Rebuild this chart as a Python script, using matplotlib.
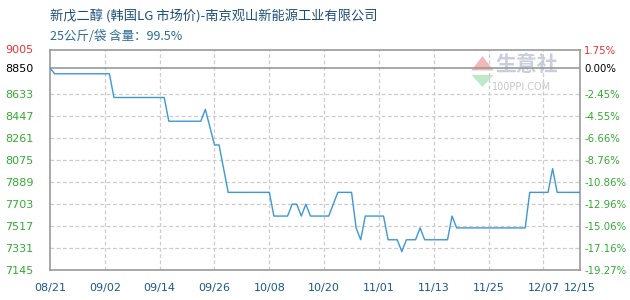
import matplotlib
matplotlib.use("Agg")
import matplotlib.pyplot as plt
import matplotlib.patches as mpatches
import pandas as pd
import numpy as np

plt.rcParams['font.family'] = ['DejaVu Sans', 'Noto Sans CJK SC']

title1 = "新戊二醇 (韩国LG 市场价)-南京观山新能源工业有限公司"
title2 = "25公斤/袋 含量：99.5%"

dates = ["2023-08-21", "2023-08-22", "2023-09-03", "2023-09-04", "2023-09-15", "2023-09-16",
         "2023-09-23", "2023-09-24", "2023-09-26", "2023-09-27", "2023-09-29", "2023-10-08",
         "2023-10-09", "2023-10-12", "2023-10-13", "2023-10-14", "2023-10-15", "2023-10-16",
         "2023-10-17", "2023-10-21", "2023-10-23", "2023-10-26", "2023-10-27", "2023-10-28",
         "2023-10-29", "2023-11-02", "2023-11-03", "2023-11-05", "2023-11-06", "2023-11-07",
         "2023-11-09", "2023-11-10", "2023-11-11", "2023-11-16", "2023-11-17", "2023-11-18",
         "2023-12-03", "2023-12-04", "2023-12-08", "2023-12-09", "2023-12-10", "2023-12-15"]
prices = [8850, 8800, 8800, 8600, 8600, 8400,
          8400, 8500, 8200, 8200, 7800, 7800,
          7600, 7600, 7700, 7700, 7600, 7700,
          7600, 7600, 7800, 7800, 7500, 7400,
          7600, 7600, 7400, 7400, 7300, 7400,
          7400, 7500, 7400, 7400, 7600, 7500,
          7500, 7800, 7800, 8000, 7800, 7800]

base_price = 8850
y_ticks = [9005, 8850, 8633, 8447, 8261, 8075, 7889, 7703, 7517, 7331, 7145]
pct_labels = ["1.75%", "0.00%", "-2.45%", "-4.55%", "-6.66%", "-8.76%", "-10.86%",
              "-12.96%", "-15.06%", "-17.16%", "-19.27%"]
x_tick_labels = ["08/21", "09/02", "09/14", "09/26", "10/08", "10/20", "11/01",
                 "11/13", "11/25", "12/07", "12/15"]

RED = "#ee3333"
GREEN = "#33aa33"
BLACK = "#000000"
BLUE_TXT = "#1a5a86"
LINE = "#3c97d6"
GRID = "#cccccc"
BORDER = "#999999"

def col_for(i):
    return RED if i == 0 else (BLACK if i == 1 else GREEN)

d = pd.to_datetime(dates)
start = d[0]
days = np.array([(x - start).days for x in d])

fig = plt.figure(figsize=(6.3, 3.0), dpi=100)
ax = fig.add_axes([50/630, 30/300, 530/630, 220.5/300])

ax.plot(days, prices, color=LINE, lw=1.0, zorder=3)

ax.set_xlim(0, 116)
ax.set_ylim(7145, 9005)

tick_dates = pd.to_datetime(["2023-" + s.replace("/", "-") for s in x_tick_labels])
xt = [(t - start).days for t in tick_dates]
ax.set_xticks(xt)
ax.set_xticklabels(x_tick_labels, color=BLUE_TXT, fontsize=8)
ax.set_yticks(y_ticks)
ax.set_yticklabels([str(v) for v in y_ticks], fontsize=8)
for i, lab in enumerate(ax.get_yticklabels()):
    lab.set_color(col_for(i))
    lab.set_horizontalalignment('left')
ax.tick_params(axis='y', length=0, pad=32)
ax.tick_params(axis='x', length=0, pad=9)

for x in xt[1:-1]:
    ax.axvline(x, color=GRID, lw=0.9, ls=(0, (3, 2)), zorder=1)
for y in y_ticks[2:-1]:
    ax.axhline(y, color=GRID, lw=0.9, ls=(0, (3, 2)), zorder=1)
ax.axhline(base_price, color=BORDER, lw=1.2, zorder=2)

for s in ax.spines.values():
    s.set_color(BORDER)
    s.set_linewidth(1.2)

ax2 = ax.twinx()
ax2.set_ylim(ax.get_ylim())
ax2.set_yticks(y_ticks)
ax2.set_yticklabels(pct_labels, fontsize=7.3)
for i, lab in enumerate(ax2.get_yticklabels()):
    lab.set_color(col_for(i))
ax2.tick_params(axis='y', length=0, pad=3)
for s in ax2.spines.values():
    s.set_visible(False)

# watermark
ax.text(0.9, 0.93, "生意社", transform=ax.transAxes, fontsize=15, color="#c8cede",
        family=['Noto Sans CJK SC'], ha='center', va='center', fontweight='bold', zorder=0)
ax.text(0.89, 0.83, "100PPI.COM", transform=ax.transAxes, fontsize=7, color="#c8c8c8",
        ha='center', va='center', zorder=0)
ax.add_patch(mpatches.Polygon([[0.795, 0.905], [0.837, 0.905], [0.816, 0.97]], closed=True,
                              transform=ax.transAxes, color="#f2b8b8", zorder=0, lw=0))
ax.add_patch(mpatches.Polygon([[0.795, 0.885], [0.837, 0.885], [0.816, 0.83]], closed=True,
                              transform=ax.transAxes, color="#bfe8c8", zorder=0, lw=0))

fig.text(50/630, 1 - 16/300, title1, fontsize=9.5, color="#1a4f7a",
         family=['Noto Sans CJK SC', 'DejaVu Sans'], va='center', ha='left')
fig.text(50/630, 1 - 36/300, title2, fontsize=9, color="#2a6a96",
         family=['Noto Sans CJK SC', 'DejaVu Sans'], va='center', ha='left')

fig.savefig("out.png", dpi=100)
